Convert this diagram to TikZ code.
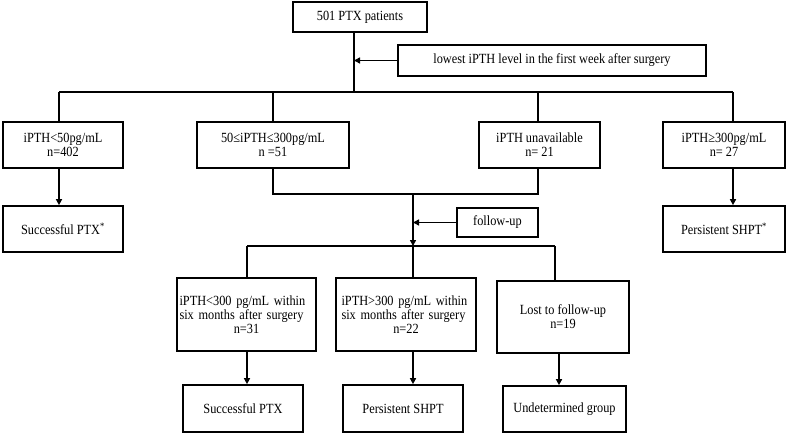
\documentclass[tikz,border=0pt]{standalone}
\usepackage{fontspec}
\setmainfont{Liberation Serif}[FakeStretch=0.88]
\usetikzlibrary{arrows.meta}
\begin{document}
\begin{tikzpicture}[x=1pt,y=-1pt,
  bx/.style={draw,line width=1.7pt,inner sep=1pt,align=center,font=\fontsize{14}{14}\selectfont},
  tw/.style={align=left,text width=#1},
  ln/.style={line width=1.7pt},
  arr/.style={line width=1.7pt,-{Triangle[length=6pt,width=6pt]}}]
\useasboundingbox (0,0) rectangle (787,434);
% boxes
\node[bx,minimum width=134,minimum height=30] (top) at (360,17) {501 PTX patients};
\node[bx,minimum width=308,minimum height=31] (low) at (552,60.5) {lowest iPTH level in the first week after surgery};
\node[bx,minimum width=120,minimum height=46] (b1) at (63,145) {iPTH<50pg/mL\\n=402};
\node[bx,minimum width=152,minimum height=46] (b2) at (273,145) {50≤iPTH≤300pg/mL\\n =51};
\node[bx,minimum width=121,minimum height=46] (b3) at (539.5,145) {iPTH unavailable\\n= 21};
\node[bx,minimum width=122,minimum height=46] (b4) at (724,145) {iPTH≥300pg/mL\\n= 27};
\node[bx,minimum width=120,minimum height=46] (s1) at (63,229) {Successful PTX\textsuperscript{*}};
\node[bx,minimum width=122,minimum height=46] (s4) at (724,229) {Persistent SHPT\textsuperscript{*}};
\node[bx,minimum width=81,minimum height=29] (fu) at (497.5,222.5) {follow-up};
\node[bx,tw=134pt,minimum width=139,minimum height=73] (c1) at (246.5,314.5) {\makebox[\linewidth][s]{iPTH<300 pg/mL within}\\\mbox{six months after surgery}\\\makebox[\linewidth]{n=31}};
\node[bx,tw=129pt,minimum width=140,minimum height=73] (c2) at (406,314.5) {\makebox[\linewidth][s]{iPTH>300 pg/mL within}\\\mbox{six months after surgery}\\\makebox[\linewidth]{n=22}};
\node[bx,minimum width=132,minimum height=72] (c3) at (563,317) {Lost to follow-up\\n=19};
\node[bx,minimum width=120,minimum height=47] (d1) at (243,408.5) {Successful PTX};
\node[bx,minimum width=120,minimum height=47] (d2) at (403,408.5) {Persistent SHPT};
\node[bx,minimum width=123,minimum height=46] (d3) at (564.5,409) {Undetermined group};
% junction coordinates
\coordinate (j1) at (354,92);
\coordinate (h1) at (59,92);
\coordinate (h3) at (538,92);
\coordinate (h4) at (733,92);
\coordinate (m) at (413,194);
\coordinate (h2) at (413,246);
\coordinate (h2l) at (247,246);
\coordinate (h2r) at (555,246);
\coordinate (x3) at (559,353);
% connectors
\draw[ln] (top.south -| j1) -- (j1);
\draw[arr] (low.west) -- (low.west -| j1);
\draw[ln] (h1) -- (h4);
\draw[ln] (h1) -- (h1 |- b1.north);
\draw[ln] (b2.north) -- (b2.north |- h1);
\draw[ln] (h3) -- (h3 |- b3.north);
\draw[ln] (h4) -- (h4 |- b4.north);
\draw[arr] (h1 |- b1.south) -- (h1 |- s1.north);
\draw[arr] (h4 |- b4.south) -- (h4 |- s4.north);
\draw[ln] (b2.south) |- (m);
\draw[ln] (h3 |- b3.south) |- (m);
\draw[arr] (m) -- (h2);
\draw[arr] (fu.west) -- (fu.west -| m);
\draw[ln] (h2l) -- (h2r);
\draw[ln] (h2l) -- (h2l |- c1.north);
\draw[ln] (h2) -- (h2 |- c2.north);
\draw[ln] (h2r) -- (h2r |- c3.north);
\draw[arr] (h2l |- c1.south) -- (h2l |- d1.north);
\draw[arr] (h2 |- c2.south) -- (h2 |- d2.north);
\draw[arr] (x3) -- (x3 |- d3.north);
\end{tikzpicture}
\end{document}
